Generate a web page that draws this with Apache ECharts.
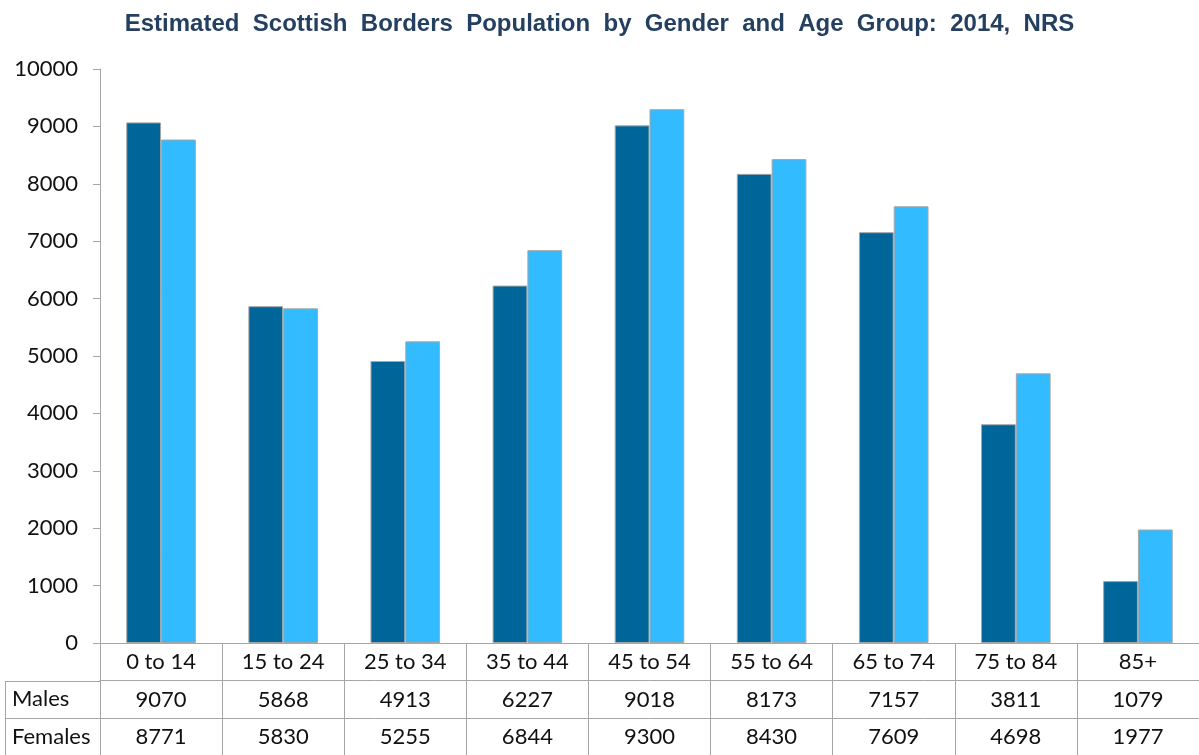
<!DOCTYPE html>
<html><head><meta charset="utf-8">
<script src="https://cdn.jsdelivr.net/npm/echarts@6/dist/echarts.min.js"></script>
<style>html,body{margin:0;padding:0;background:#fff}#c{width:1199px;height:755px}</style>
</head><body><div id="c"></div>
<script>
var categories = ['0 to 14','15 to 24','25 to 34','35 to 44','45 to 54','55 to 64','65 to 74','75 to 84','85+'];
var males = [9070, 5868, 4913, 6227, 9018, 8173, 7157, 3811, 1079];
var females = [8771, 5830, 5255, 6844, 9300, 8430, 7609, 4698, 1977];
var rowNames = ['Males', 'Females'];
var yTicks = {min: 0, max: 10000, interval: 1000};

var FONT = 'Lato';
var FS = 22;
var LINE = '#a6a6a6';
var chart = echarts.init(document.getElementById('c'), null, {renderer: 'canvas'});
var rowH = 37.5;
var baseX = {
  type: 'category', data: categories, position: 'bottom',
  axisLine: {show: true, lineStyle: {color: LINE, width: 1}},
  axisTick: {show: false},
  splitLine: {show: false}
};
chart.setOption({
  animation: false,
  backgroundColor: '#fff',
  title: {
    text: 'Estimated  Scottish  Borders  Population  by  Gender  and  Age  Group:  2014,  NRS',
    left: 'center', top: 7,
    textStyle: {fontFamily: 'Liberation Sans', fontWeight: 'bold', fontSize: 24, color: '#243f60'}
  },
  grid: {left: 100, right: 0, top: 69, bottom: 112, containLabel: false},
  xAxis: [
    Object.assign({}, baseX, {
      axisTick: {show: true, interval: 0, alignWithLabel: false, length: 112, lineStyle: {color: LINE}},
      axisLabel: {interval: 0, margin: 19, verticalAlign: 'middle', fontFamily: FONT, fontSize: FS, color: '#111'}
    }),
    Object.assign({}, baseX, {
      offset: rowH,
      axisLabel: {interval: 0, margin: 19, verticalAlign: 'middle', fontFamily: FONT, fontSize: FS, color: '#111',
        formatter: function (v, i) { return String(males[i]); }}
    }),
    Object.assign({}, baseX, {
      offset: rowH * 2,
      axisLabel: {interval: 0, margin: 19, verticalAlign: 'middle', fontFamily: FONT, fontSize: FS, color: '#111',
        formatter: function (v, i) { return String(females[i]); }}
    })
  ],
  yAxis: {
    type: 'value', min: yTicks.min, max: yTicks.max, interval: yTicks.interval,
    axisLine: {show: true, lineStyle: {color: LINE}},
    axisTick: {show: true, length: 7, lineStyle: {color: LINE}},
    splitLine: {show: false},
    axisLabel: {margin: 22, fontFamily: FONT, fontSize: FS, color: '#111',
      formatter: function (v) { return String(v); }}
  },
  series: [
    {name: 'Males', type: 'bar', data: males, xAxisIndex: 0, barGap: '0%', barCategoryGap: '43%',
      itemStyle: {color: '#006699', borderColor: LINE, borderWidth: 1}},
    {name: 'Females', type: 'bar', data: females, xAxisIndex: 0,
      itemStyle: {color: '#33bbff', borderColor: LINE, borderWidth: 1}}
  ]
});

// Row header column of the data table, placed relative to the axis positions
var y0 = chart.convertToPixel({yAxisIndex: 0}, 0);
var gx = 100;
var leftX = 5;
var g = [];
for (var r = 0; r < rowNames.length; r++) {
  var yy = Math.round(y0 + rowH * (r + 1)) + 0.5;
  g.push({type: 'line', shape: {x1: leftX, y1: yy, x2: gx, y2: yy}, style: {stroke: LINE, lineWidth: 1}});
  g.push({type: 'text', x: leftX + 7, y: y0 + rowH * (r + 1.5),
    style: {text: rowNames[r], fontFamily: FONT, fontSize: FS, fill: '#111', verticalAlign: 'middle', align: 'left'}});
}
g.push({type: 'line', shape: {x1: leftX + 0.5, y1: Math.round(y0 + rowH), x2: leftX + 0.5, y2: 755}, style: {stroke: LINE, lineWidth: 1}});
chart.setOption({graphic: g});
</script></body></html>
